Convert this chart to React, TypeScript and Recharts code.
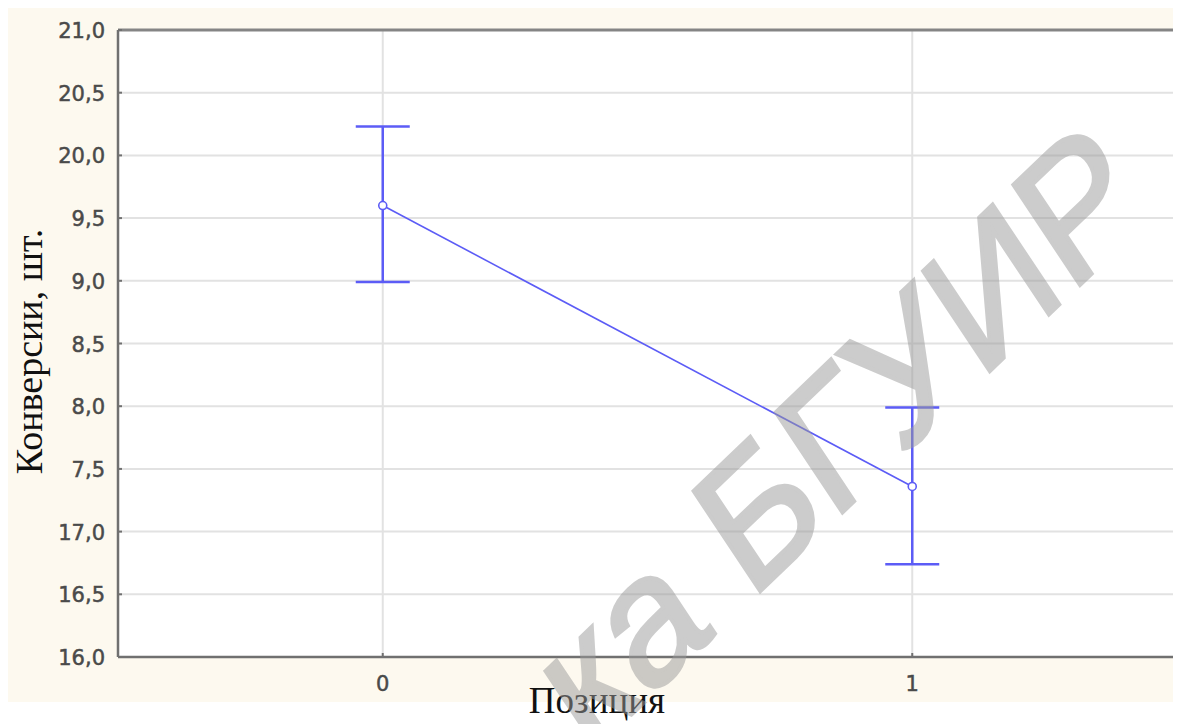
import React from "react";
import {
  ComposedChart,
  Line,
  XAxis,
  YAxis,
  CartesianGrid,
  ErrorBar,
  ReferenceLine,
} from "recharts";

// positions on x axis and the means with their interval bounds
const positions = [0, 1];
const means = [19.6, 17.36];
const upper = [20.23, 17.99];
const lower = [18.99, 16.74];

const yTicks = [16, 16.5, 17, 17.5, 18, 18.5, 19, 19.5, 20, 20.5, 21];
// labels exactly as printed on the original figure
const yTickLabels = ["16,0", "16,5", "17,0", "7,5", "8,0", "8,5", "9,0", "9,5", "20,0", "20,5", "21,0"];
const xTicks = [0, 1];

const data = positions.map((p, i) => ({
  pos: p,
  mean: means[i],
  err: [means[i] - lower[i], upper[i] - means[i]],
}));

const BLUE = "#5c5cf6";
const AXIS = "#707070";
const TICK_TEXT = "#4a4a4a";

const LeftTick = (props: any) => {
  const { x, y, payload } = props;
  const idx = yTicks.indexOf(payload.value);
  return (
    <g>
      <line x1={x + 13} x2={x + 17} y1={y} y2={y} stroke={AXIS} strokeWidth={2} />
      <text
        x={x}
        y={y}
        dy={8}
        textAnchor="end"
        fill={TICK_TEXT}
        stroke={TICK_TEXT}
        strokeWidth={0.5}
        fontSize={21}
        fontFamily="DejaVu Sans, sans-serif"
      >
        {yTickLabels[idx]}
      </text>
    </g>
  );
};

const RightTick = (props: any) => {
  const { x, y } = props;
  return <line x1={x - 4} x2={x} y1={y} y2={y} stroke={AXIS} strokeWidth={2} />;
};

const BottomTick = (props: any) => {
  const { x, y, payload } = props;
  return (
    <g>
      <line x1={x} x2={x} y1={y - 24} y2={y - 28} stroke={AXIS} strokeWidth={2} />
      <text
        x={x}
        y={y}
        dy={10}
        textAnchor="middle"
        fill={TICK_TEXT}
        stroke={TICK_TEXT}
        strokeWidth={0.5}
        fontSize={21}
        fontFamily="DejaVu Sans, sans-serif"
      >
        {payload.value}
      </text>
    </g>
  );
};

const YTitle = (props: any) => {
  const { viewBox } = props;
  const cx = 21;
  const cy = viewBox.y + viewBox.height / 2 + 8;
  return (
    <text
      x={cx}
      y={cy}
      transform={`rotate(-90 ${cx} ${cy})`}
      textAnchor="middle"
      dominantBaseline="central"
      fontSize={38}
      fill="#111"
      fontFamily="Liberation Serif, Times New Roman, serif"
    >
      Конверсии, шт.
    </text>
  );
};

const XTitle = (props: any) => {
  const { viewBox } = props;
  return (
    <text
      x={589}
      y={viewBox.y + 56}
      textAnchor="middle"
      fontSize={37}
      fill="#111"
      fontFamily="Liberation Serif, Times New Roman, serif"
    >
      Позиция
    </text>
  );
};

export default function App() {
  return (
    <div style={{ position: "relative", width: 1173, height: 716 }}>
      <div
        style={{
          position: "absolute",
          left: 0,
          top: 0,
          width: 1173,
          height: 694,
          background: "#fdf9ef",
        }}
      />
      <div style={{ position: "absolute", left: 0, top: 0 }}>
        <ComposedChart
          width={1173}
          height={716}
          data={data}
          margin={{ top: 22, right: 2, left: 0, bottom: 0 }}
        >
          <CartesianGrid yAxisId="left" stroke="#e2e2e2" strokeWidth={2} fill="#ffffff" />
          <XAxis
            dataKey="pos"
            type="number"
            domain={[-0.5, 1.5]}
            ticks={xTicks}
            height={67}
            tickSize={0}
            tickMargin={24}
            tick={<BottomTick />}
            axisLine={{ stroke: AXIS, strokeWidth: 2.5 }}
            label={<XTitle />}
          />
          <YAxis
            yAxisId="left"
            domain={[16, 21]}
            ticks={yTicks}
            width={110}
            tickSize={0}
            tickMargin={13}
            tick={<LeftTick />}
            axisLine={{ stroke: AXIS, strokeWidth: 2.5 }}
            label={<YTitle />}
          />
          <YAxis
            yAxisId="right"
            orientation="right"
            domain={[16, 21]}
            ticks={yTicks}
            width={2}
            tickSize={0}
            tickMargin={0}
            tick={<RightTick />}
            axisLine={{ stroke: "#a8a8a8", strokeWidth: 1.5 }}
          />
          <ReferenceLine yAxisId="left" y={21} stroke="#858585" strokeWidth={3} />
          <Line
            yAxisId="left"
            dataKey="mean"
            stroke={BLUE}
            strokeWidth={1.6}
            isAnimationActive={false}
            dot={{ r: 4, fill: "#ffffff", stroke: BLUE, strokeWidth: 1.6 }}
            activeDot={false}
          >
            <ErrorBar dataKey="err" width={27} stroke={BLUE} strokeWidth={2.5} direction="y" />
          </Line>
        </ComposedChart>
      </div>
      <svg
        width={1173}
        height={716}
        style={{ position: "absolute", left: 0, top: 0, pointerEvents: "none" }}
      >
        {/* watermark, only the part visible in the scan */}
        <g
          transform="matrix(0.72,-0.69,0.557,0.836,742,593)"
          opacity={0.5}
          fill="#9a9a9a"
          stroke="#9a9a9a"
          strokeWidth={4}
          strokeLinejoin="miter"
          fontSize={174}
          fontFamily="Liberation Sans, Arial, sans-serif"
        >
          <text x={-48} y={0} textAnchor="end">
            ка
          </text>
          <text x={0} y={0}>
            БГУИР
          </text>
        </g>
      </svg>
    </div>
  );
}
